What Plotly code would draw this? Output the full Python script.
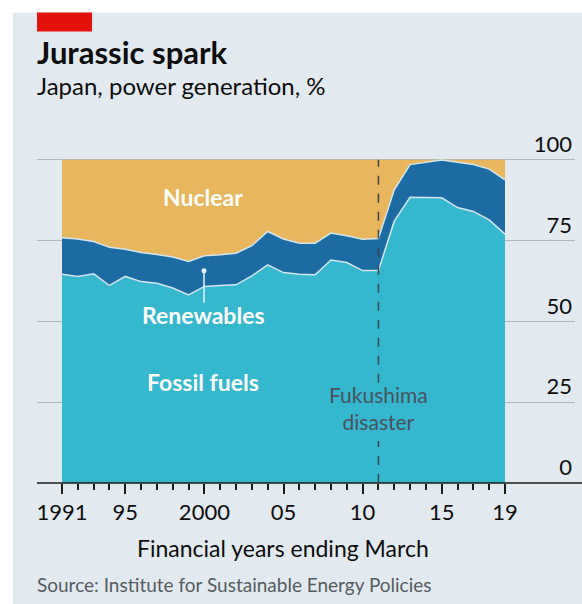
import plotly.graph_objects as go

# ---- data ----
years = list(range(1991, 2020))
fossil_top = [64.6, 63.9, 64.7, 61.1, 63.9, 62.3, 61.8, 60.3, 58.2, 60.8,
              61.1, 61.3, 64.1, 67.5, 65.1, 64.6, 64.4, 69.0, 68.2, 65.7,
              65.7, 81.0, 88.4, 88.4, 88.2, 85.2, 84.0, 81.4, 77.0]
renew_top = [75.9, 75.5, 74.7, 72.9, 72.3, 71.3, 70.7, 69.9, 68.5, 70.3,
             70.6, 71.1, 73.4, 77.8, 75.5, 74.2, 74.2, 77.3, 76.5, 75.4,
             75.6, 90.7, 98.5, 99.2, 99.9, 99.2, 98.5, 97.1, 93.8]
fossil = fossil_top
renewables = [round(t - f, 1) for t, f in zip(renew_top, fossil_top)]
nuclear = [round(100 - t, 1) for t in renew_top]

major_ticks = [1991, 1995, 2000, 2005, 2010, 2015, 2019]
major_text = ["1991", "95", "2000", "05", "10", "15", "19"]
y_ticks = [0, 25, 50, 75, 100]
fukushima_year = 2011

# ---- styling ----
W, H = 582, 604
YMAX = 116
PX_PER_UNIT = 3.23
L, R, B = 37, 575, 483
T = B - YMAX * PX_PER_UNIT
FONT = "Lato"
BG = "#e2eaf0"
C_FOSSIL = "#35b7cd"
C_RENEW = "#1c6ba3"
C_NUC = "#e8b65c"
EDGE = "#d3e6ee"


def px(x):
    return (x - L) / (R - L)


def py(y):
    return (B - y) / (B - T)


fig = go.Figure()
fig.add_trace(go.Scatter(x=years, y=fossil, stackgroup="one", mode="lines",
                         line=dict(color=EDGE, width=1.5), fillcolor=C_FOSSIL,
                         name="Fossil fuels", hoverinfo="skip"))
fig.add_trace(go.Scatter(x=years, y=renewables, stackgroup="one", mode="lines",
                         line=dict(color=EDGE, width=1.5), fillcolor=C_RENEW,
                         name="Renewables", hoverinfo="skip"))
fig.add_trace(go.Scatter(x=years, y=nuclear, stackgroup="one", mode="lines",
                         line=dict(color=C_NUC, width=0), fillcolor=C_NUC,
                         name="Nuclear", hoverinfo="skip"))

shapes = [
    # background panel
    dict(type="rect", xref="paper", yref="paper", x0=px(13), x1=px(590),
         y0=py(610), y1=py(13), fillcolor=BG, line=dict(width=0), layer="below"),
    # red tag
    dict(type="rect", xref="paper", yref="paper", x0=px(37), x1=px(92),
         y0=py(32), y1=py(13), fillcolor="#e3120b", line=dict(width=0), layer="above"),
    # x axis line
    dict(type="line", xref="paper", yref="paper", x0=px(37), x1=px(582),
         y0=0, y1=0, line=dict(color="#1a1a1a", width=1.5), layer="above"),
    # Fukushima dashed line (split around the label)
    dict(type="line", xref="x", yref="y", x0=fukushima_year, x1=fukushima_year,
         y0=0, y1=13, line=dict(color="#3b4650", width=1.5, dash="dash"), layer="above"),
    dict(type="line", xref="x", yref="y", x0=fukushima_year, x1=fukushima_year,
         y0=31, y1=100, line=dict(color="#3b4650", width=1.5, dash="dash"), layer="above"),
    # renewables pointer
    dict(type="line", xref="paper", yref="paper", x0=px(204), x1=px(204),
         y0=py(303), y1=py(272), line=dict(color="#e8f2f6", width=1.5), layer="above"),
    dict(type="circle", xref="paper", yref="paper", x0=px(201.5), x1=px(206.5),
         y0=py(273.5), y1=py(268.5), fillcolor="#e8f2f6", line=dict(width=0), layer="above"),
]

annotations = [
    dict(text="<b>Jurassic spark</b>", x=px(35), y=py(52), xanchor="left", yanchor="middle",
         font=dict(size=31, color="#0d0d0d", family=FONT)),
    dict(text="Japan, power generation, %", x=px(35), y=py(86), xanchor="left", yanchor="middle",
         font=dict(size=24, color="#0d0d0d", family=FONT)),
    dict(text="<b>Nuclear</b>", x=px(203), y=py(197), xanchor="center", yanchor="middle",
         font=dict(size=23, color="white", family=FONT)),
    dict(text="<b>Renewables</b>", x=px(203.5), y=py(315), xanchor="center", yanchor="middle",
         font=dict(size=23, color="white", family=FONT)),
    dict(text="<b>Fossil fuels</b>", x=px(203), y=py(382), xanchor="center", yanchor="middle",
         font=dict(size=23, color="white", family=FONT)),
    dict(text="Fukushima<br>disaster", x=px(378), y=py(408), xanchor="center", yanchor="middle",
         font=dict(size=21, color="#47525c", family=FONT)),
    dict(text="Financial years ending March", x=px(283), y=py(548), xanchor="center",
         yanchor="middle", font=dict(size=23, color="#0d0d0d", family=FONT)),
    dict(text="Source: Institute for Sustainable Energy Policies", x=px(35), y=py(584),
         xanchor="left", yanchor="middle", font=dict(size=19, color="#555b60", family=FONT)),
]
for a in annotations:
    a.update(xref="paper", yref="paper", showarrow=False)

x0 = 1991 - (62 - L) / 15.82
x1 = 2019 + (R - 505) / 15.82

fig.update_layout(
    width=W, height=H,
    margin=dict(l=L, r=W - R, t=T, b=H - B, pad=0),
    paper_bgcolor="white", plot_bgcolor="rgba(0,0,0,0)",
    showlegend=False,
    shapes=shapes, annotations=annotations,
    font=dict(family=FONT, size=22, color="#0d0d0d"),
    xaxis=dict(range=[x0, x1], tickmode="array", tickvals=major_ticks, ticktext=major_text,
               ticks="outside", ticklen=10, tickwidth=1.5, tickcolor="#1a1a1a",
               minor=dict(tickmode="array", tickvals=years, ticks="outside", ticklen=6,
                          tickwidth=1.5, tickcolor="#1a1a1a"),
               showgrid=False, zeroline=False, showline=False,
               tickfont=dict(size=22, family=FONT, color="#0d0d0d")),
    yaxis=dict(range=[0, YMAX], tickmode="array", tickvals=y_ticks, side="right",
               ticklabelposition="inside top", ticks="", showgrid=True,
               gridcolor="#aeb7be", gridwidth=1, zeroline=False, showline=False,
               tickfont=dict(size=22, family=FONT, color="#0d0d0d")),
)

fig.write_html("out.html", config={"displayModeBar": False},
               post_script="document.body.style.margin='0';")
